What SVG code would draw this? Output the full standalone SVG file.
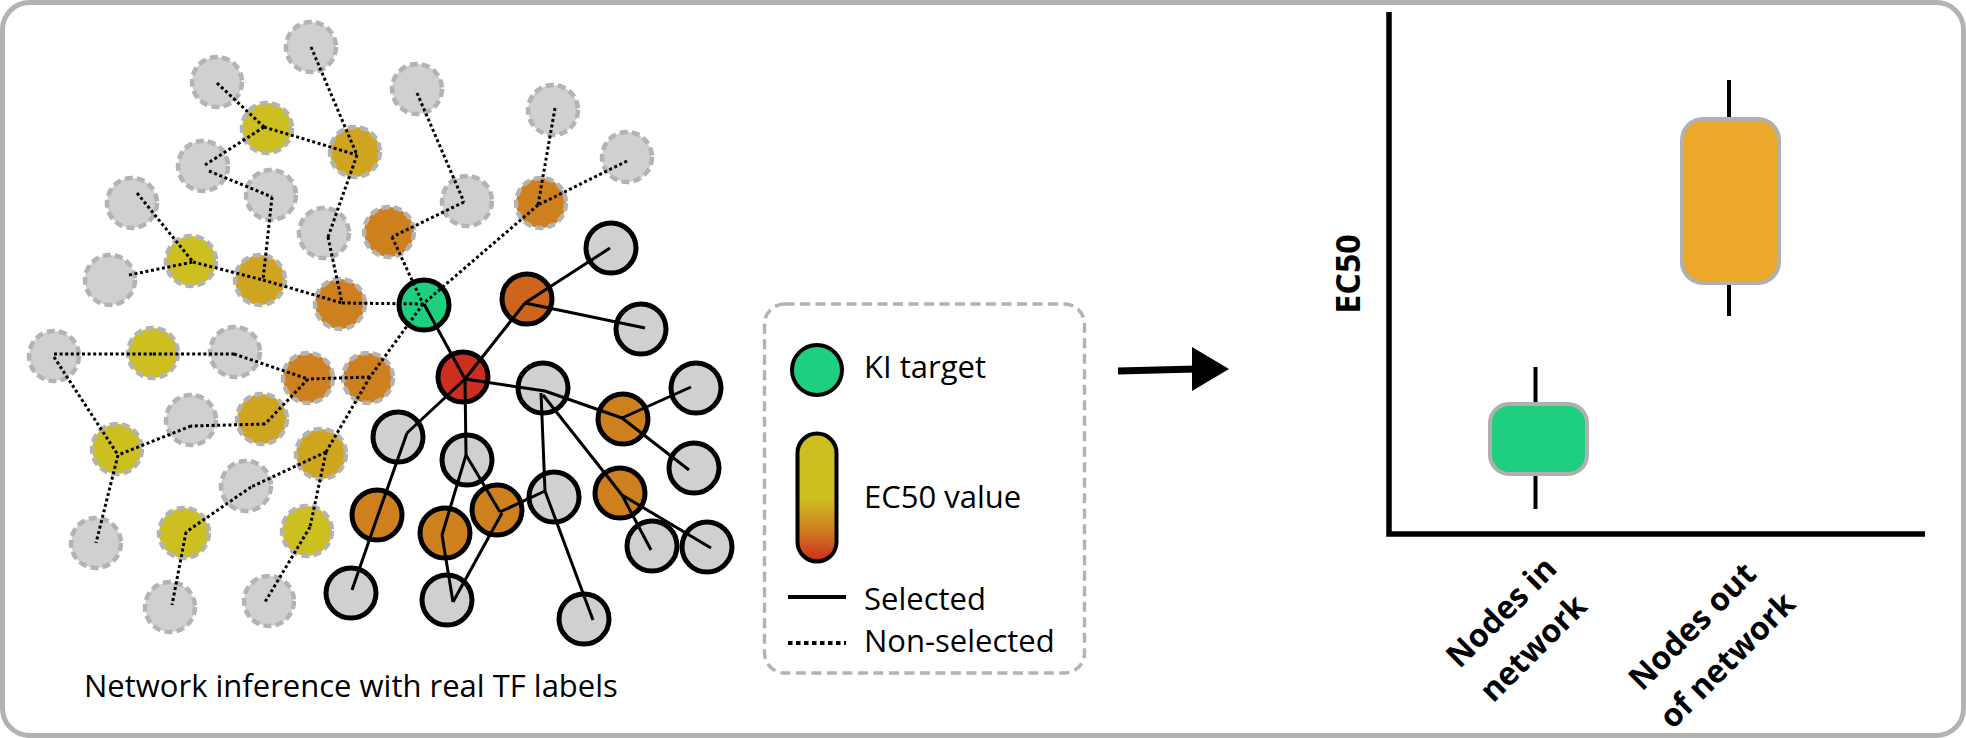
<svg xmlns="http://www.w3.org/2000/svg" width="1966" height="738" viewBox="0 0 1966 738">
<style>
text{font-family:"Open Sans","Noto Sans","Liberation Sans",sans-serif;fill:#000}
.lbl{font-size:31px}
.bold{font-weight:bold;font-size:32px}
.dn circle{stroke:#b3b3b3;stroke-width:4.5;stroke-dasharray:8 4.2}
.sn circle{stroke:#000;stroke-width:5}
.grey{fill:#d0d0d0}
.yel{fill:#cdbf1f}
.gold{fill:#cfa520}
.org{fill:#ce801f}
.dorg{fill:#cd661c}
.red{fill:#cc2e1f}
.grn{fill:#1ecf80}
.dot path{fill:none;stroke:#000;stroke-width:3;stroke-dasharray:3 2.6}
.sol path{fill:none;stroke:#000;stroke-width:3}
</style>
<defs>
<linearGradient id="ec" x1="0" y1="0" x2="0" y2="1">
<stop offset="0" stop-color="#cdbf1f"/>
<stop offset="0.5" stop-color="#cdbf1f"/>
<stop offset="0.75" stop-color="#cf8020"/>
<stop offset="1" stop-color="#cc2a1e"/>
</linearGradient>
</defs>
<rect x="2.5" y="2.5" width="1961" height="733" rx="27" fill="#fff" stroke="#b3b3b3" stroke-width="5"/>

<g id="nodes-nonselected" class="dn">
<g id="d1"><circle class="grey" cx="311" cy="47" r="25"/></g>
<g id="d2"><circle class="grey" cx="217" cy="82" r="25"/></g>
<g id="d3"><circle class="grey" cx="417" cy="89" r="25"/></g>
<g id="d4"><circle class="grey" cx="553" cy="110" r="25"/></g>
<g id="d5"><circle class="grey" cx="627" cy="157" r="25"/></g>
<g id="d6"><circle class="yel" cx="267" cy="128" r="25"/></g>
<g id="d7"><circle class="gold" cx="355" cy="152" r="25"/></g>
<g id="d8"><circle class="grey" cx="203" cy="166" r="25"/></g>
<g id="d9"><circle class="grey" cx="271" cy="195" r="25"/></g>
<g id="d10"><circle class="grey" cx="132" cy="203" r="25"/></g>
<g id="d11"><circle class="grey" cx="467" cy="201" r="25"/></g>
<g id="d12"><circle class="org" cx="541" cy="203" r="25"/></g>
<g id="d13"><circle class="grey" cx="324" cy="233" r="25"/></g>
<g id="d14"><circle class="org" cx="389" cy="232" r="25"/></g>
<g id="d15"><circle class="yel" cx="191" cy="261" r="25"/></g>
<g id="d16"><circle class="gold" cx="260" cy="280" r="25"/></g>
<g id="d17"><circle class="grey" cx="110" cy="280" r="25"/></g>
<g id="d18"><circle class="org" cx="340" cy="304" r="25"/></g>
<g id="d19"><circle class="grey" cx="54" cy="356" r="25"/></g>
<g id="d20"><circle class="yel" cx="153" cy="353" r="25"/></g>
<g id="d21"><circle class="grey" cx="235" cy="352" r="25"/></g>
<g id="d22"><circle class="org" cx="308" cy="378" r="25"/></g>
<g id="d23"><circle class="org" cx="368" cy="378" r="25"/></g>
<g id="d24"><circle class="grey" cx="191" cy="420" r="25"/></g>
<g id="d25"><circle class="gold" cx="262" cy="419" r="25"/></g>
<g id="d26"><circle class="yel" cx="117" cy="449" r="25"/></g>
<g id="d27"><circle class="gold" cx="321" cy="454" r="25"/></g>
<g id="d28"><circle class="grey" cx="246" cy="486" r="25"/></g>
<g id="d29"><circle class="yel" cx="184" cy="533" r="25"/></g>
<g id="d30"><circle class="yel" cx="307" cy="531" r="25"/></g>
<g id="d31"><circle class="grey" cx="96" cy="543" r="25"/></g>
<g id="d32"><circle class="grey" cx="170" cy="607" r="25"/></g>
<g id="d33"><circle class="grey" cx="269" cy="601" r="25"/></g>
</g>

<g id="nodes-selected" class="sn">
<g id="s1"><circle class="grn" cx="424" cy="305" r="25"/></g>
<g id="s2"><circle class="red" cx="463" cy="377" r="25"/></g>
<g id="s3"><circle class="dorg" cx="527" cy="299" r="25"/></g>
<g id="s4"><circle class="grey" cx="611" cy="248" r="25"/></g>
<g id="s5"><circle class="grey" cx="641" cy="329" r="25"/></g>
<g id="s6"><circle class="grey" cx="543" cy="388" r="25"/></g>
<g id="s7"><circle class="grey" cx="696" cy="388" r="25"/></g>
<g id="s8"><circle class="org" cx="623" cy="419" r="25"/></g>
<g id="s9"><circle class="grey" cx="398" cy="437" r="25"/></g>
<g id="s10"><circle class="grey" cx="467" cy="460" r="25"/></g>
<g id="s11"><circle class="grey" cx="694" cy="468" r="25"/></g>
<g id="s12"><circle class="grey" cx="554" cy="497" r="25"/></g>
<g id="s13"><circle class="org" cx="620" cy="493" r="25"/></g>
<g id="s14"><circle class="org" cx="377" cy="515" r="25"/></g>
<g id="s15"><circle class="org" cx="497" cy="510" r="25"/></g>
<g id="s16"><circle class="org" cx="445" cy="533" r="25"/></g>
<g id="s17"><circle class="grey" cx="652" cy="546" r="25"/></g>
<g id="s18"><circle class="grey" cx="707" cy="547" r="25"/></g>
<g id="s19"><circle class="grey" cx="351" cy="593" r="25"/></g>
<g id="s20"><circle class="grey" cx="447" cy="600" r="25"/></g>
<g id="s21"><circle class="grey" cx="584" cy="619" r="25"/></g>
</g>

<g id="connectors">
<g class="dot">
<path d="M311,47 L357,155"/>
<path d="M357,155 L328,237"/>
<path d="M328,237 L342,303"/>
<path d="M217,83 L264,127"/>
<path d="M264,127 L357,155"/>
<path d="M264,127 L205,165"/>
<path d="M209,171 L272,197"/>
<path d="M272,197 L263,280"/>
<path d="M137,193 L193,262"/>
<path d="M129,275 L193,262"/>
<path d="M193,262 L263,280"/>
<path d="M263,280 L342,303"/>
<path d="M342,303 L423,304"/>
<path d="M417,93 L464,202"/>
<path d="M464,202 L392,237"/>
<path d="M392,237 L423,304"/>
<path d="M555,108 L538,205"/>
<path d="M627,161 L538,205"/>
<path d="M538,205 L423,304"/>
<path d="M423,304 L370,377"/>
<path d="M370,377 L308,379"/>
<path d="M370,377 L326,452"/>
<path d="M326,452 L310,527"/>
<path d="M310,527 L265,602"/>
<path d="M326,452 L251,487"/>
<path d="M251,487 L186,532"/>
<path d="M186,532 L172,605"/>
<path d="M54,354 L153,354"/>
<path d="M153,354 L234,354"/>
<path d="M234,354 L308,379"/>
<path d="M308,379 L265,424"/>
<path d="M265,424 L191,426"/>
<path d="M191,426 L118,455"/>
<path d="M54,357 L118,455"/>
<path d="M118,455 L96,543"/>
</g>
<g class="sol">
<path d="M424,304 L465,379"/>
<path d="M465,379 L525,303"/>
<path d="M525,303 L610,248"/>
<path d="M525,303 L645,328"/>
<path d="M465,379 L545,391"/>
<path d="M465,379 L407,433"/>
<path d="M407,433 L378,515"/>
<path d="M378,515 L352,590"/>
<path d="M465,379 L466,455"/>
<path d="M466,455 L442,535"/>
<path d="M442,535 L453,602"/>
<path d="M466,455 L500,512"/>
<path d="M502,513 L453,602"/>
<path d="M500,512 L545,491"/>
<path d="M541,393 L545,491"/>
<path d="M545,491 L593,620"/>
<path d="M545,391 L622,418"/>
<path d="M622,418 L691,387"/>
<path d="M622,418 L689,470"/>
<path d="M543,395 L622,495"/>
<path d="M622,495 L651,550"/>
<path d="M622,495 L711,548"/>
</g>
</g>

<text id="title" class="lbl" x="84" y="697">Network inference with real TF labels</text>

<g id="legend">
<rect x="764.5" y="304" width="320" height="369" rx="20" fill="none" stroke="#b3b3b3" stroke-width="3.5" stroke-dasharray="10 5.5"/>
<circle class="grn" cx="817" cy="370" r="25" stroke="#000" stroke-width="4"/>
<text class="lbl" x="864" y="378">KI target</text>
<rect x="797.5" y="433.5" width="39" height="128" rx="19.5" fill="url(#ec)" stroke="#000" stroke-width="4"/>
<text class="lbl" x="864" y="508">EC50 value</text>
<line x1="788" y1="597" x2="846" y2="597" stroke="#000" stroke-width="4"/>
<text class="lbl" x="864" y="610">Selected</text>
<line x1="788" y1="643" x2="846" y2="643" stroke="#000" stroke-width="4" stroke-dasharray="4.5 3.5"/>
<text class="lbl" x="864" y="652">Non-selected</text>
</g>

<g id="arrow">
<line x1="1118" y1="371" x2="1196" y2="369" stroke="#000" stroke-width="7"/>
<polygon points="1192,347 1229,369 1192,391" fill="#000"/>
</g>

<g id="chart">
<path d="M1389,12 V534 H1925" fill="none" stroke="#000" stroke-width="5.5"/>
<line x1="1535.5" y1="367" x2="1535.5" y2="509" stroke="#000" stroke-width="4"/>
<rect x="1490" y="404" width="97" height="70" rx="19" fill="#1ecf80" stroke="#b0b0b0" stroke-width="4"/>
<line x1="1729" y1="80" x2="1729" y2="316" stroke="#000" stroke-width="4"/>
<rect x="1682" y="119" width="97" height="164" rx="21" fill="#eba82a" stroke="#b0b0b0" stroke-width="4"/>
<text class="bold" style="font-size:34px" transform="translate(1360,274) rotate(-90)" text-anchor="middle">EC50</text>
<text class="bold" transform="translate(1509,620) rotate(-45)" text-anchor="middle">Nodes in</text>
<text class="bold" transform="translate(1541,656) rotate(-45)" text-anchor="middle">network</text>
<text class="bold" transform="translate(1700,634) rotate(-45)" text-anchor="middle">Nodes out</text>
<text class="bold" transform="translate(1735,668) rotate(-45)" text-anchor="middle">of network</text>
</g>
</svg>
